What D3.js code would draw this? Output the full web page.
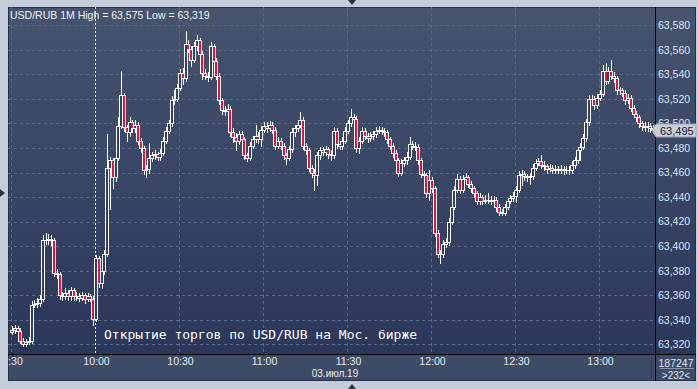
<!DOCTYPE html>
<html><head><meta charset="utf-8">
<script src="https://cdn.jsdelivr.net/npm/d3@7"></script>
<style>body{margin:0;background:#c3ccd8;overflow:hidden}svg{display:block}</style>
</head><body><svg id="c" width="698" height="389"></svg>
<script>
const startMinute = 570; // 9:30
const opens = [
63.330,63.332,63.333,63.331,63.323,63.320,63.322,63.323,63.352,63.353,
63.354,63.357,63.405,63.405,63.406,63.405,63.378,63.377,63.360,63.359,
63.362,63.359,63.364,63.359,63.359,63.358,63.360,63.357,63.359,63.357,
63.341,63.390,63.370,63.380,63.394,63.464,63.470,63.456,63.472,63.498,
63.523,63.497,63.493,63.501,63.496,63.499,63.486,63.480,63.462,63.463,
63.472,63.474,63.475,63.473,63.476,63.486,63.494,63.500,63.519,63.520,
63.529,63.541,63.537,63.565,63.561,63.552,63.563,63.568,63.557,63.541,
63.539,63.538,63.563,63.551,63.539,63.519,63.511,63.510,63.512,63.493,
63.489,63.486,63.491,63.487,63.474,63.472,63.482,63.487,63.490,63.487,
63.495,63.498,63.496,63.499,63.495,63.482,63.486,63.482,63.474,63.472,
63.479,63.493,63.496,63.499,63.503,63.482,63.478,63.464,63.460,63.458,
63.474,63.478,63.477,63.479,63.475,63.474,63.494,63.483,63.482,63.486,
63.494,63.500,63.505,63.504,63.480,63.486,63.494,63.490,63.488,63.490,
63.491,63.494,63.495,63.494,63.493,63.487,63.482,63.476,63.470,63.460,
63.468,63.470,63.473,63.483,63.482,63.481,63.470,63.459,63.458,63.443,
63.454,63.447,63.411,63.394,63.394,63.402,63.403,63.420,63.432,63.446,
63.455,63.446,63.455,63.456,63.451,63.447,63.443,63.437,63.440,63.437,
63.438,63.438,63.437,63.438,63.432,63.428,63.427,63.432,63.437,63.439,
63.441,63.446,63.458,63.459,63.457,63.456,63.457,63.464,63.468,63.469,
63.466,63.465,63.463,63.464,63.462,63.463,63.462,63.463,63.462,63.462,
63.462,63.466,63.470,63.478,63.481,63.488,63.501,63.520,63.520,63.515,
63.521,63.524,63.543,63.535,63.543,63.539,63.537,63.527,63.527,63.525,
63.519,63.521,63.513,63.508,63.505,63.500,63.498,63.497,63.498,63.496];
const highs = [
63.335,63.336,63.335,63.333,63.325,63.324,63.326,63.355,63.356,63.358,
63.360,63.409,63.411,63.410,63.409,63.407,63.381,63.379,63.363,63.366,
63.364,63.367,63.366,63.363,63.362,63.363,63.362,63.362,63.361,63.359,
63.393,63.392,63.383,63.397,63.491,63.473,63.472,63.475,63.505,63.543,
63.525,63.499,63.505,63.503,63.503,63.501,63.488,63.482,63.466,63.484,
63.477,63.478,63.477,63.479,63.489,63.497,63.503,63.522,63.527,63.532,
63.544,63.545,63.575,63.568,63.563,63.566,63.572,63.570,63.559,63.544,
63.542,63.566,63.565,63.553,63.541,63.521,63.514,63.516,63.514,63.496,
63.492,63.494,63.494,63.489,63.476,63.485,63.490,63.499,63.493,63.498,
63.501,63.501,63.502,63.501,63.497,63.489,63.488,63.484,63.476,63.482,
63.496,63.499,63.502,63.509,63.505,63.484,63.480,63.466,63.463,63.477,
63.481,63.481,63.482,63.481,63.478,63.497,63.496,63.486,63.489,63.497,
63.503,63.512,63.508,63.506,63.489,63.497,63.496,63.492,63.493,63.494,
63.497,63.498,63.497,63.496,63.495,63.489,63.484,63.478,63.472,63.471,
63.473,63.477,63.489,63.486,63.485,63.483,63.472,63.461,63.460,63.462,
63.456,63.449,63.413,63.397,63.405,63.407,63.423,63.435,63.449,63.459,
63.457,63.458,63.460,63.458,63.453,63.449,63.445,63.443,63.442,63.442,
63.443,63.441,63.441,63.440,63.434,63.430,63.434,63.439,63.442,63.444,
63.449,63.461,63.462,63.461,63.459,63.460,63.467,63.471,63.472,63.474,
63.469,63.467,63.467,63.466,63.466,63.465,63.466,63.465,63.465,63.465,
63.469,63.473,63.481,63.484,63.491,63.504,63.523,63.523,63.522,63.524,
63.527,63.548,63.549,63.546,63.552,63.542,63.539,63.530,63.529,63.527,
63.524,63.523,63.515,63.510,63.507,63.502,63.501,63.501,63.500,63.499];
const lows = [
63.328,63.329,63.328,63.321,63.319,63.319,63.320,63.321,63.350,63.350,
63.351,63.355,63.402,63.402,63.401,63.376,63.374,63.357,63.356,63.357,
63.356,63.356,63.356,63.356,63.355,63.356,63.354,63.355,63.355,63.336,
63.339,63.367,63.366,63.377,63.392,63.430,63.447,63.453,63.470,63.496,
63.494,63.486,63.490,63.493,63.493,63.483,63.477,63.459,63.456,63.460,
63.469,63.471,63.470,63.470,63.474,63.484,63.492,63.498,63.516,63.518,
63.527,63.532,63.535,63.558,63.547,63.550,63.560,63.554,63.536,63.536,
63.535,63.536,63.548,63.536,63.516,63.508,63.507,63.507,63.490,63.485,
63.478,63.483,63.484,63.471,63.469,63.470,63.480,63.485,63.484,63.482,
63.493,63.493,63.494,63.492,63.479,63.480,63.479,63.471,63.467,63.470,
63.477,63.490,63.494,63.497,63.479,63.475,63.461,63.456,63.446,63.450,
63.471,63.474,63.474,63.472,63.470,63.472,63.480,63.479,63.479,63.484,
63.492,63.498,63.501,63.477,63.476,63.484,63.487,63.485,63.486,63.487,
63.489,63.492,63.491,63.490,63.484,63.479,63.473,63.467,63.457,63.458,
63.465,63.467,63.471,63.479,63.478,63.467,63.456,63.455,63.440,63.438,
63.444,63.408,63.391,63.386,63.391,63.399,63.401,63.418,63.430,63.444,
63.443,63.444,63.452,63.448,63.444,63.440,63.434,63.434,63.434,63.435,
63.435,63.434,63.434,63.429,63.425,63.425,63.425,63.430,63.435,63.437,
63.436,63.444,63.450,63.454,63.453,63.451,63.455,63.462,63.466,63.464,
63.462,63.460,63.461,63.460,63.460,63.460,63.460,63.459,63.460,63.459,
63.460,63.464,63.468,63.470,63.479,63.486,63.499,63.517,63.512,63.513,
63.519,63.522,63.532,63.533,63.536,63.534,63.524,63.524,63.522,63.516,
63.517,63.510,63.505,63.502,63.497,63.495,63.494,63.494,63.493,63.492];
const closes = [
63.332,63.333,63.331,63.323,63.320,63.322,63.323,63.352,63.353,63.354,
63.357,63.405,63.405,63.406,63.405,63.378,63.377,63.360,63.359,63.362,
63.359,63.364,63.359,63.359,63.358,63.360,63.357,63.359,63.357,63.341,
63.390,63.370,63.380,63.394,63.464,63.470,63.456,63.472,63.498,63.523,
63.497,63.493,63.501,63.496,63.499,63.486,63.480,63.462,63.463,63.472,
63.474,63.475,63.473,63.476,63.486,63.494,63.500,63.519,63.520,63.529,
63.541,63.537,63.565,63.561,63.552,63.563,63.568,63.557,63.541,63.539,
63.538,63.563,63.551,63.539,63.519,63.511,63.510,63.512,63.493,63.489,
63.486,63.491,63.487,63.474,63.472,63.482,63.487,63.490,63.487,63.495,
63.498,63.496,63.499,63.495,63.482,63.486,63.482,63.474,63.472,63.479,
63.493,63.496,63.499,63.503,63.482,63.478,63.464,63.460,63.458,63.474,
63.478,63.477,63.479,63.475,63.474,63.494,63.483,63.482,63.486,63.494,
63.500,63.505,63.504,63.480,63.486,63.494,63.490,63.488,63.490,63.491,
63.494,63.495,63.494,63.493,63.487,63.482,63.476,63.470,63.460,63.468,
63.470,63.473,63.483,63.482,63.481,63.470,63.459,63.458,63.443,63.454,
63.447,63.411,63.394,63.394,63.402,63.403,63.420,63.432,63.446,63.455,
63.446,63.455,63.456,63.451,63.447,63.443,63.437,63.440,63.437,63.438,
63.438,63.437,63.438,63.432,63.428,63.427,63.432,63.437,63.439,63.441,
63.446,63.458,63.459,63.457,63.456,63.457,63.464,63.468,63.469,63.466,
63.465,63.463,63.464,63.462,63.463,63.462,63.463,63.462,63.462,63.462,
63.466,63.470,63.478,63.481,63.488,63.501,63.520,63.520,63.515,63.521,
63.524,63.543,63.535,63.543,63.539,63.537,63.527,63.527,63.525,63.519,
63.521,63.513,63.508,63.505,63.500,63.498,63.497,63.498,63.496,63.495];
const yTicks = [63.32,63.34,63.36,63.38,63.40,63.42,63.44,63.46,63.48,63.50,63.52,63.54,63.56,63.58];
const xTicks = [570,600,630,660,690,720,750,780];
const xTickLabels = ["9:30","10:00","10:30","11:00","11:30","12:00","12:30","13:00"];
const sessionOpen = 600;
const titleText = "USD/RUB 1M High = 63,575 Low = 63,319";
const dateText = "03.июл.19";
const noteText = "Открытие торгов по USD/RUB на Мос. бирже";
const lastPrice = 63.495;
const volumeText = "187247";
const countText = ">232<";

const svg = d3.select("#c");
const PL = 8, PR = 655, PT = 7, PB = 354, FR = 696, FB = 381;
const font = "'Liberation Sans', Arial, sans-serif";

const defs = svg.append("defs");
const grad = defs.append("linearGradient").attr("id","bg").attr("x1",0).attr("y1",0).attr("x2",0).attr("y2",1);
grad.append("stop").attr("offset","0%").attr("stop-color","#46546e");
grad.append("stop").attr("offset","100%").attr("stop-color","#29345a");
defs.append("clipPath").attr("id","pclip").append("rect").attr("x",PL).attr("y",PT).attr("width",PR-PL).attr("height",PB-PT);
defs.append("clipPath").attr("id","fclip").append("rect").attr("x",PL).attr("y",PT).attr("width",FR-PL).attr("height",FB-PT);

// outer markers
svg.append("path").attr("d","M348,0 L356,0 L352,5 Z").attr("fill","#2a3242");
svg.append("path").attr("d","M348,389 L356,389 L352,384 Z").attr("fill","#2a3242");
svg.append("path").attr("d","M0,189 L0,197 L5,193 Z").attr("fill","#2a3242");

// panel
svg.append("rect").attr("x",PL).attr("y",PT).attr("width",FR-PL).attr("height",FB-PT).attr("fill","url(#bg)");
svg.append("rect").attr("x",PL).attr("y",PB).attr("width",FR-PL).attr("height",FB-PB).attr("fill","#3e4b67");
svg.append("rect").attr("x",PL+0.5).attr("y",PT+0.5).attr("width",FR-PL-1).attr("height",FB-PT-1).attr("fill","none").attr("stroke","#27304a");

const x = d3.scaleLinear().domain([startMinute, startMinute+230]).range([11, 655]);
const y = d3.scaleLinear().domain([63.32, 63.58]).range([344.3, 25.3]);

const plot = svg.append("g").attr("clip-path","url(#pclip)");
// gridlines
plot.selectAll("line.hg").data(yTicks).join("line")
  .attr("x1",PL).attr("x2",PR).attr("y1",d=>Math.round(y(d))+0.5).attr("y2",d=>Math.round(y(d))+0.5)
  .attr("stroke","#5a6988").attr("stroke-dasharray","3,3");
plot.selectAll("line.vg").data(xTicks.filter(t=>t!==sessionOpen)).join("line")
  .attr("y1",PT).attr("y2",PB).attr("x1",d=>Math.round(x(d))+0.5).attr("x2",d=>Math.round(x(d))+0.5)
  .attr("stroke","#5a6988").attr("stroke-dasharray","3,3");
plot.append("line").attr("x1",Math.round(x(sessionOpen))+0.5).attr("x2",Math.round(x(sessionOpen))+0.5)
  .attr("y1",PT).attr("y2",PB).attr("stroke","#ffffff").attr("stroke-dasharray","2,2");

// candles
const data = closes.map((c,i)=>({t:startMinute+i,o:opens[i],h:highs[i],l:lows[i],c}));
const cg = plot.append("g").attr("shape-rendering","crispEdges");
const cx = d=>Math.round(x(d.t));
cg.selectAll("rect.w").data(data).join("rect")
  .attr("x",d=>cx(d)+1).attr("width",1)
  .attr("y",d=>Math.round(y(d.h))).attr("height",d=>Math.round(y(d.l))-Math.round(y(d.h))+1)
  .attr("fill","#ffffff");
const bodyTop = d=>Math.round(y(Math.max(d.o,d.c)));
const bodyH = d=>Math.max(1, Math.round(y(Math.min(d.o,d.c))) - bodyTop(d) + 1);
cg.selectAll("rect.b").data(data).join("rect")
  .attr("x",d=>cx(d)-1).attr("width",4)
  .attr("y",bodyTop).attr("height",bodyH).attr("fill","#ffffff");
cg.selectAll("rect.in").data(data.filter(d=>bodyH(d)>2)).join("rect")
  .attr("x",d=>cx(d)).attr("width",2)
  .attr("y",d=>bodyTop(d)+1).attr("height",d=>bodyH(d)-2)
  .attr("fill",d=>d.c<d.o ? "#e8113b" : "#34405f");

// annotation
svg.append("text").attr("x",104).attr("y",339).text(noteText)
  .attr("font-family","'DejaVu Sans Mono', monospace").attr("font-size",13).attr("fill","#ffffff");

// title
svg.append("text").attr("x",10).attr("y",19).text(titleText)
  .attr("font-family",font).attr("font-size",10.5).attr("fill","#eef2f8");

// axis lines
svg.append("line").attr("x1",PR+0.5).attr("x2",PR+0.5).attr("y1",PT).attr("y2",FB).attr("stroke","#000000");
svg.append("line").attr("x1",PL).attr("x2",FR).attr("y1",PB+0.5).attr("y2",PB+0.5).attr("stroke","#000000");

// right axis
const yAxis = d3.axisRight(y).tickValues(yTicks).tickSize(0).tickPadding(3)
  .tickFormat(d=>d3.format(".3f")(d).replace(".",","));
const ya = svg.append("g").attr("transform",`translate(${PR},0)`).call(yAxis);
ya.select(".domain").remove();
ya.selectAll("text").attr("font-family",font).attr("font-size",10.5).attr("fill","#dce6f4");

// bottom axis
const fg = svg.append("g").attr("clip-path","url(#fclip)");
const xAxis = d3.axisBottom(x).tickValues(xTicks).tickSize(0).tickPadding(3)
  .tickFormat((d,i)=>xTickLabels[i]);
const xa = fg.append("g").attr("transform",`translate(1,${PB+1})`).call(xAxis);
xa.select(".domain").remove();
xa.selectAll("text").attr("font-family",font).attr("font-size",10.5).attr("fill","#e6ecf5");
svg.append("text").attr("x",335).attr("y",377).attr("text-anchor","middle").text(dateText)
  .attr("font-family",font).attr("font-size",10).attr("fill","#e6ecf5");

// bottom-right cell
svg.append("line").attr("x1",651.5).attr("x2",651.5).attr("y1",358).attr("y2",379).attr("stroke","#2c3852");
svg.append("text").attr("x",676).attr("y",367).attr("text-anchor","middle").text(volumeText)
  .attr("font-family",font).attr("font-size",10.5).attr("fill","#dce6f4");
svg.append("line").attr("x1",660).attr("x2",694).attr("y1",368.5).attr("y2",368.5).attr("stroke","#8795ad");
svg.append("text").attr("x",676).attr("y",379).attr("text-anchor","middle").text(countText)
  .attr("font-family",font).attr("font-size",10).attr("fill","#dce6f4");

// last price marker
const ly = Math.round(y(lastPrice));
svg.append("path").attr("d",`M652,${ly} L656,${ly-6} L696,${ly-6} L696,${ly+7} L656,${ly+7} Z`)
  .attr("fill","#c9ced6").attr("stroke","#9aa3b2");
svg.append("text").attr("x",660).attr("y",ly+4.5).text(d3.format(".3f")(lastPrice).replace(".",","))
  .attr("font-family",font).attr("font-size",11).attr("fill","#14203a");
</script>
</body></html>
